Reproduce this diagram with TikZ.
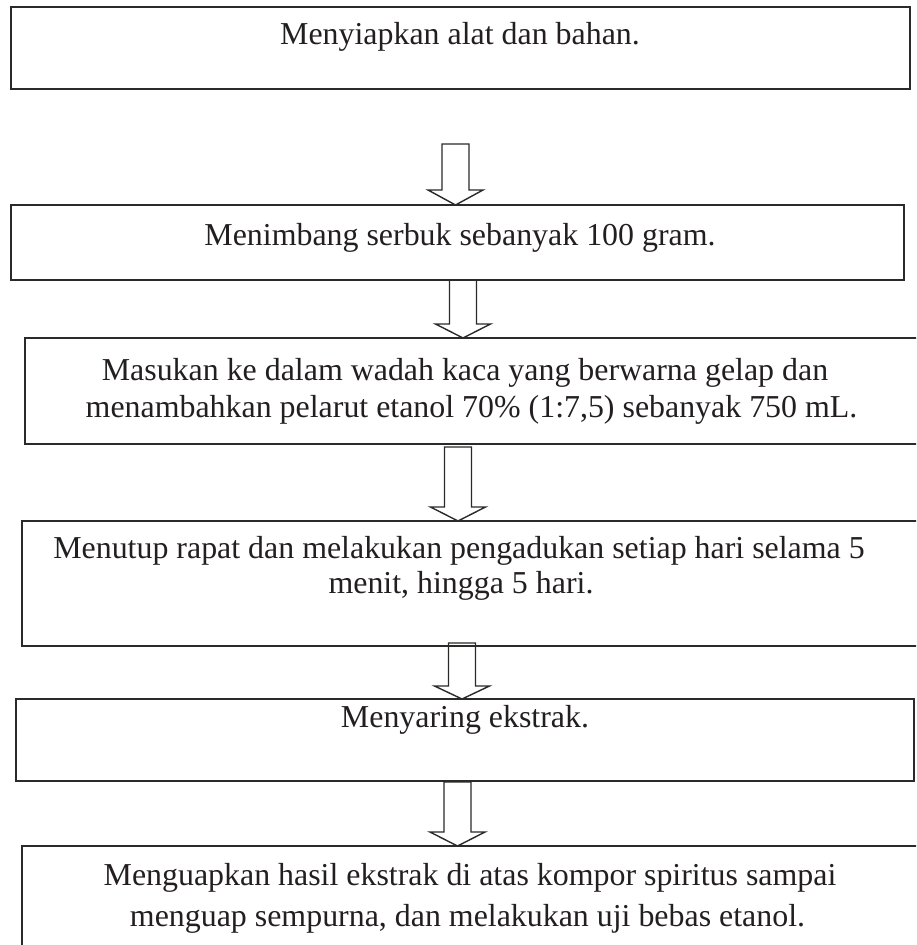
\documentclass[tikz,border=0pt]{standalone}
\usepackage{fontspec}
\setmainfont{Liberation Serif}
\usetikzlibrary{calc}
\definecolor{ink}{HTML}{231F20}
\definecolor{frame}{HTML}{2B2A29}
\tikzset{
  stepbox/.style={draw=frame, line width=2pt, inner sep=0pt, outer sep=0pt, rectangle},
  steptext/.style={text=ink, inner sep=0pt, anchor=base, font=\fontsize{31.9}{38}\selectfont},
  hollow/.style={draw=frame, line width=1.4pt, line join=miter},
}
% #1 start coordinate name, #2 target node, #3 head length
\newcommand{\hollowarrow}[3]{%
  \coordinate (#1tip) at (#1 |- #2.north);
  \draw[hollow] ($(#1)+(-13.5,0)$) -- ($(#1tip)+(-13.5,-#3)$) -- ($(#1tip)+(-27.5,-#3)$)
    -- (#1tip) -- ($(#1tip)+(27.5,-#3)$) -- ($(#1tip)+(13.5,-#3)$) -- ($(#1)+(13.5,0)$) -- cycle;
}
\begin{document}
\begin{tikzpicture}[x=1pt,y=-1pt]
\useasboundingbox (0,0) rectangle (916,945);
\fill[white] (0,0) rectangle (916,945);
\begin{scope}
\clip (0,0) rectangle (916,945);
% boxes
\node[stepbox, minimum width=899pt, minimum height=82pt] (b1) at (460.5,48) {};
\node[stepbox, minimum width=893pt, minimum height=75pt] (b2) at (457.5,242.5) {};
\node[stepbox, minimum width=895pt, minimum height=106pt] (b3) at (472.5,391) {};
\node[stepbox, minimum width=898pt, minimum height=125pt] (b4) at (471,583.5) {};
\node[stepbox, minimum width=898pt, minimum height=82pt] (b5) at (465,740) {};
\node[stepbox, minimum width=898pt, minimum height=114pt] (b6) at (471,903) {};
% texts
\node[steptext] (t1) at (460,44) {Menyiapkan alat dan bahan.};
\node[steptext] (t2) at (460,245) {Menimbang serbuk sebanyak 100 gram.};
\node[steptext] (t3a) at (465,380) {Masukan ke dalam wadah kaca yang berwarna gelap dan};
\node[steptext] (t3b) at (471.5,417) {menambahkan pelarut etanol 70\% (1:7,5) sebanyak 750 mL.};
\node[steptext] (t4a) at (459,558) {Menutup rapat dan melakukan pengadukan setiap hari selama 5};
\node[steptext] (t4b) at (461,593) {menit, hingga 5 hari.};
\node[steptext] (t5) at (465,727) {Menyaring ekstrak.};
\node[steptext] (t6a) at (470,885) {Menguapkan hasil ekstrak di atas kompor spiritus sampai};
\node[steptext] (t6b) at (467.5,926) {menguap sempurna, dan melakukan uji bebas etanol.};
% arrows
\coordinate (a1) at (455.5,144);
\coordinate (a2) at (463,280);
\coordinate (a3) at (458,447);
\coordinate (a4) at (462,643);
\coordinate (a5) at (457.5,782);
\hollowarrow{a1}{b2}{15}
\hollowarrow{a2}{b3}{14}
\hollowarrow{a3}{b4}{14}
\hollowarrow{a4}{b5}{13}
\hollowarrow{a5}{b6}{14}
\end{scope}
\end{tikzpicture}
\end{document}
